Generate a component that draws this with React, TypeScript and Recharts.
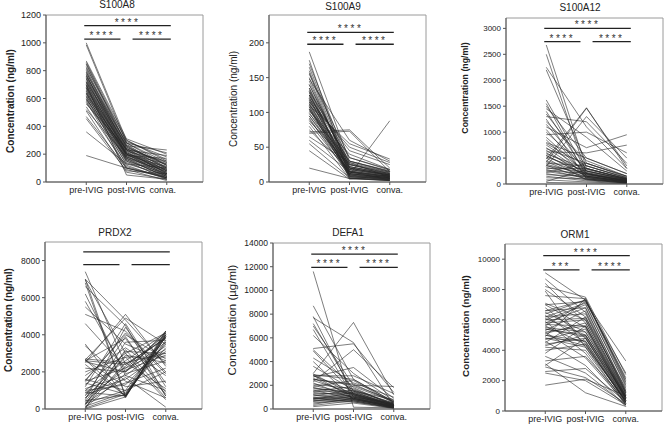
import React from 'react';
import { LineChart, Line, XAxis, YAxis, ReferenceLine, ReferenceArea } from 'recharts';

const timepoints = ['pre-IVIG', 'post-IVIG', 'conva.'];

// S100A8 (ng/ml)
const s100a8Pre = [
  1000, 985, 870, 860, 850, 845, 830, 820, 810, 800, 790,
  785, 775, 770, 760, 750, 745, 740, 730, 720, 715, 710,
  700, 695, 690, 680, 675, 670, 660, 655, 650, 640, 635,
  630, 620, 615, 610, 600, 595, 590, 580, 570, 560, 540,
  520, 510, 470, 455, 360, 190, 720, 680, 760, 640, 700,
];
const s100a8Post = [
  300, 280, 310, 290, 270, 260, 250, 300, 240, 230, 220,
  280, 210, 200, 250, 190, 260, 180, 240, 230, 170, 220,
  210, 200, 160, 190, 150, 180, 230, 140, 200, 170, 120,
  210, 160, 190, 100, 150, 200, 130, 90, 170, 240, 110,
  180, 70, 100, 80, 130, 100, 260, 230, 280, 200, 50,
];
const s100a8Conva = [
  150, 120, 200, 180, 100, 90, 130, 160, 80, 110, 60,
  140, 70, 50, 120, 40, 230, 90, 100, 60, 30, 150,
  80, 70, 40, 110, 20, 60, 190, 30, 90, 50, 20,
  100, 40, 170, 30, 60, 130, 50, 10, 80, 140, 30,
  70, 20, 40, 60, 100, 30, 120, 80, 210, 50, 20,
];

// S100A9 (ng/ml)
const s100a9Pre = [
  187, 175, 170, 165, 160, 157, 155, 150, 148, 145, 140,
  135, 132, 130, 128, 125, 125, 122, 120, 118, 117, 115,
  113, 112, 110, 108, 105, 104, 102, 100, 98, 95, 92,
  90, 88, 85, 80, 75, 72, 70, 65, 60, 55, 45,
  20, 120, 110, 130, 140, 115, 105, 125, 135, 95, 108,
];
const s100a9Post = [
  30, 10, 25, 20, 15, 8, 35, 12, 60, 18, 22,
  5, 28, 14, 10, 30, 20, 7, 45, 16, 25, 12,
  9, 18, 55, 6, 22, 14, 40, 10, 30, 20, 8,
  15, 25, 12, 5, 18, 75, 73, 28, 15, 6, 4,
  5, 20, 12, 35, 22, 50, 9, 16, 26, 14, 11,
];
const s100a9Conva = [
  15, 5, 12, 10, 8, 3, 18, 6, 30, 9, 12,
  2, 14, 7, 88, 16, 10, 4, 25, 8, 12, 6,
  5, 10, 33, 3, 11, 7, 18, 5, 15, 10, 4,
  8, 13, 6, 2, 9, 20, 15, 7, 3, 2, 10,
  3, 10, 6, 17, 11, 28, 4, 8, 14, 7, 5,
];

// S100A12 (ng/ml)
const s100a12Pre = [
  2680, 2500, 2250, 2200, 1620, 1550, 1500, 1450, 1400, 1350, 1300,
  1250, 1200, 1150, 1100, 1050, 1000, 950, 900, 850, 800, 780,
  750, 700, 680, 650, 620, 600, 580, 550, 520, 500, 480,
  450, 430, 400, 380, 360, 340, 320, 300, 280, 260, 240,
  220, 200, 180, 150, 120, 80, 50, 30, 420, 550, 350,
];
const s100a12Post = [
  300, 200, 1100, 400, 250, 150, 500, 900, 200, 350, 1200,
  100, 450, 250, 700, 150, 300, 1000, 200, 120, 500, 350,
  250, 180, 400, 130, 600, 220, 300, 150, 250, 80, 1470,
  200, 120, 350, 180, 90, 1300, 150, 300, 100, 200, 130,
  400, 80, 150, 60, 100, 40, 280, 20, 1460, 170, 220,
];
const s100a12Conva = [
  100, 50, 300, 150, 80, 40, 200, 250, 60, 120, 400,
  30, 150, 90, 950, 50, 100, 600, 70, 40, 200, 110,
  80, 60, 130, 40, 750, 70, 100, 50, 90, 20, 300,
  60, 40, 120, 70, 30, 500, 50, 90, 30, 60, 40,
  150, 20, 50, 20, 30, 10, 100, 10, 350, 60, 80,
];

// PRDX2 (ng/ml)
const prdx2Pre = [
  7400, 7000, 7000, 6950, 6800, 6600, 6200, 5800, 5500, 5100, 4600,
  3500, 3400, 2700, 2650, 2650, 2650, 2600, 2600, 2550, 2500, 2400,
  2000, 1800, 1600, 1550, 1500, 1400, 1300, 1200, 1100, 1000, 900,
  800, 700, 600, 500, 450, 400, 350, 300, 250, 200, 150,
  100, 80, 50, 20, 0, 1500, 1000, 600, 2200, 300, 900,
];
const prdx2Post = [
  2400, 700, 4800, 3000, 650, 4500, 1800, 2000, 3500, 4200, 2200,
  600, 1500, 2500, 700, 4900, 1200, 2400, 3800, 2000, 5100, 700,
  2800, 3300, 1000, 4000, 2200, 800, 3000, 4600, 1800, 2600, 700,
  1400, 3900, 2100, 4400, 750, 3100, 2300, 1700, 2900, 3600, 900,
  2500, 1900, 800, 3200, 650, 4100, 1300, 2800, 2000, 1000, 1600,
];
const prdx2Conva = [
  3800, 4000, 2400, 4100, 3900, 700, 1000, 3600, 2600, 2000, 3900,
  4200, 600, 3000, 4000, 3500, 1500, 3800, 900, 4100, 2300, 3700,
  500, 1800, 4000, 2700, 3200, 4200, 600, 1200, 3400, 4100, 3900,
  2200, 700, 2900, 1400, 3600, 3000, 4000, 100, 2500, 3700, 3300,
  1100, 2600, 3900, 800, 4100, 1900, 3500, 2800, 4200, 2000, 3100,
];

// DEFA1 (µg/ml)
const defa1Pre = [
  11600, 8700, 7800, 7700, 7200, 7000, 6700, 6200, 5100, 5000, 4900,
  4300, 4000, 3600, 3000, 2950, 2900, 2850, 2800, 2700, 2600, 2500,
  2400, 2300, 2200, 2100, 2000, 1900, 1800, 1700, 1600, 1500, 1400,
  1300, 1200, 1100, 1000, 950, 900, 850, 800, 750, 700, 650,
  600, 500, 400, 300, 200, 2500, 1800, 1200, 2800, 900, 1500,
];
const defa1Post = [
  150, 2500, 1200, 5600, 1500, 2000, 1000, 3000, 5500, 1800, 1300,
  2200, 800, 1600, 7300, 1200, 2500, 900, 1500, 3500, 1100, 2000,
  1300, 5000, 900, 1700, 1200, 2400, 1000, 1500, 800, 1900, 1100,
  1300, 700, 1600, 900, 1200, 800, 1000, 1400, 700, 900, 1100,
  600, 800, 900, 700, 500, 2100, 1300, 1000, 2800, 600, 1400,
];
const defa1Conva = [
  100, 600, 400, 300, 800, 1900, 500, 700, 1400, 300, 200,
  1000, 150, 400, 1200, 300, 600, 100, 500, 900, 200, 700,
  300, 1800, 250, 400, 100, 500, 350, 200, 150, 600, 300,
  400, 100, 500, 250, 300, 200, 150, 400, 100, 250, 300,
  80, 200, 150, 100, 50, 600, 300, 200, 1300, 100, 350,
];

// ORM1 (ng/ml)
const orm1Pre = [
  9100, 8700, 8400, 8200, 8000, 7900, 7600, 7100, 7000, 7000, 6800,
  6600, 6500, 6400, 6300, 6200, 6100, 6000, 5900, 5800, 5700, 5600,
  5600, 5500, 5400, 5300, 5200, 5100, 5000, 4900, 4800, 4700, 4600,
  4500, 4400, 4300, 4200, 4000, 3800, 3600, 3300, 3100, 3000, 2900,
  2600, 2500, 1700, 5800, 6200, 5400, 5000, 6600, 4800, 5200, 6000,
];
const orm1Post = [
  7300, 6500, 5800, 7500, 6200, 4200, 7400, 6000, 5500, 7200, 4800,
  6800, 5200, 7300, 4500, 6400, 5000, 7000, 3800, 6000, 5600, 4400,
  7200, 5200, 4900, 6600, 3500, 5800, 4600, 7400, 4200, 5400, 3000,
  6200, 4800, 5000, 4000, 4400, 5600, 2500, 3600, 1200, 4800, 2200,
  2800, 2000, 2100, 6800, 7100, 5000, 4300, 7300, 4600, 5600, 6100,
];
const orm1Conva = [
  1800, 1200, 900, 2400, 1500, 700, 2000, 1100, 800, 3300, 600,
  1400, 1000, 2200, 500, 1300, 900, 1700, 400, 1000, 800, 600,
  2500, 900, 700, 1200, 500, 1000, 600, 1900, 400, 800, 300,
  1100, 700, 900, 500, 600, 1000, 400, 700, 300, 800, 500,
  600, 400, 1000, 1300, 1600, 800, 700, 2100, 600, 900, 1200,
];

const BOX_W = 157;
const X_MAX = 3.9;
const Y_AXIS_W = 40;
const TOP_PAD = 8;
const FONT = '"Liberation Sans", Arial, sans-serif';

type Sig = { y: number; x1: number; x2: number; label: string };

const buildRows = (pre: number[], post: number[], conva: number[]) =>
  [pre, post, conva].map((vals, i) => {
    const row: Record<string, number> = { x: i + 1 };
    vals.forEach((v, j) => {
      row['s' + j] = v;
    });
    return row;
  });

const sigBars = (top: number, low: number, stars: string[]): Sig[] => [
  { y: top, x1: 0.95, x2: 3.1, label: stars[0] },
  { y: low, x1: 0.95, x2: 1.85, label: stars[1] },
  { y: low, x1: 2.15, x2: 3.1, label: stars[2] },
];

const XTick = (props: any) => {
  const { x, y, payload, convaDx } = props;
  const dx = payload.value === 3 ? convaDx : 0;
  return (
    <text x={x + dx} y={y} dy="0.71em" textAnchor="middle" fontSize={9} fill="#222" fontFamily={FONT}>
      {timepoints[payload.value - 1]}
    </text>
  );
};

type PanelProps = {
  left: number;
  top: number;
  boxH: number;
  yMax: number;
  yTicks: number[];
  pre: number[];
  post: number[];
  conva: number[];
  sigs: Sig[];
  tickFont: number;
  convaDx?: number;
};

const Panel = ({ left, top, boxH, yMax, yTicks, pre, post, conva, sigs, tickFont, convaDx = 0 }: PanelProps) => {
  const rows = buildRows(pre, post, conva);
  return (
    <div style={{ position: 'absolute', left: left - Y_AXIS_W, top: top - TOP_PAD }}>
      <LineChart
        width={Y_AXIS_W + BOX_W + 2}
        height={boxH + TOP_PAD + 22}
        data={rows}
        margin={{ top: TOP_PAD, right: 2, bottom: 0, left: 0 }}
      >
        <ReferenceArea x1={0} x2={X_MAX} y1={0} y2={yMax} fill="none" stroke="#9a9a9a" strokeWidth={1} />
        <XAxis
          type="number"
          dataKey="x"
          domain={[0, X_MAX]}
          ticks={[1, 2, 3]}
          interval={0}
          allowDataOverflow
          height={22}
          tickSize={3}
          tickMargin={2}
          axisLine={{ stroke: '#555' }}
          tickLine={{ stroke: '#555' }}
          tick={<XTick convaDx={convaDx} />}
        />
        <YAxis
          type="number"
          domain={[0, yMax]}
          ticks={yTicks}
          interval={0}
          allowDataOverflow
          width={Y_AXIS_W}
          tickSize={3}
          tickMargin={2}
          axisLine={{ stroke: '#555' }}
          tickLine={{ stroke: '#555' }}
          tick={{ fontSize: tickFont, fill: '#222', fontFamily: FONT }}
        />
        {pre.map((_, j) => (
          <Line
            key={j}
            type="linear"
            dataKey={'s' + j}
            stroke="#262626"
            strokeWidth={0.6}
            dot={false}
            activeDot={false}
            isAnimationActive={false}
          />
        ))}
        {sigs.map((s, i) => (
          <ReferenceLine
            key={'sig' + i}
            segment={[
              { x: s.x1, y: s.y },
              { x: s.x2, y: s.y },
            ]}
            stroke="#222"
            strokeWidth={1.3}
            label={
              s.label
                ? {
                    value: s.label,
                    position: 'top',
                    offset: 0,
                    fontSize: 10,
                    fill: '#333',
                    fontFamily: FONT,
                    style: { letterSpacing: '2.5px' },
                  }
                : undefined
            }
          />
        ))}
      </LineChart>
    </div>
  );
};

const titles = [
  { text: 'S100A8', x: 117, y: 8 },
  { text: 'S100A9', x: 343, y: 10 },
  { text: 'S100A12', x: 580, y: 11 },
  { text: 'PRDX2', x: 115, y: 236 },
  { text: 'DEFA1', x: 348, y: 236 },
  { text: 'ORM1', x: 575, y: 238 },
];

const yLabels = [
  { text: 'Concentration (ng/ml)', x: 10, y: 101, size: 10, bold: true },
  { text: 'Concentration (ng/ml)', x: 233, y: 99, size: 10, bold: false },
  { text: 'Concentration (ng/ml)', x: 465, y: 88, size: 8.8, bold: true },
  { text: 'Concentration (ng/ml)', x: 8, y: 320, size: 10, bold: true },
  { text: 'Concentration (µg/ml)', x: 232, y: 320, size: 11.5, bold: false },
  { text: 'Concentration (ng/ml)', x: 465, y: 326, size: 9.8, bold: true },
];

export default function App() {
  return (
    <div
      style={{
        position: 'absolute',
        left: 0,
        top: 0,
        width: 668,
        height: 429,
        background: '#fff',
        fontFamily: FONT,
        overflow: 'hidden',
      }}
    >
      <Panel left={46} top={15} boxH={167} yMax={1200} yTicks={[0, 200, 400, 600, 800, 1000, 1200]}
        pre={s100a8Pre} post={s100a8Post} conva={s100a8Conva}
        sigs={sigBars(1123, 1027, ['****', '****', '****'])} tickFont={9} convaDx={-4} />
      <Panel left={269} top={15} boxH={167} yMax={240} yTicks={[0, 50, 100, 150, 200]}
        pre={s100a9Pre} post={s100a9Post} conva={s100a9Conva}
        sigs={sigBars(215, 198, ['****', '****', '****'])} tickFont={9} />
      <Panel left={506} top={18} boxH={166} yMax={3200} yTicks={[0, 500, 1000, 1500, 2000, 2500, 3000]}
        pre={s100a12Pre} post={s100a12Post} conva={s100a12Conva}
        sigs={sigBars(3000, 2743, ['****', '****', '****'])} tickFont={8} />
      <Panel left={45} top={242} boxH={167} yMax={9000} yTicks={[0, 2000, 4000, 6000, 8000]}
        pre={prdx2Pre} post={prdx2Post} conva={prdx2Conva}
        sigs={sigBars(8470, 7784, ['', '', ''])} tickFont={8.5} />
      <Panel left={273} top={243} boxH={166} yMax={14000} yTicks={[0, 2000, 4000, 6000, 8000, 10000, 12000, 14000]}
        pre={defa1Pre} post={defa1Post} conva={defa1Conva}
        sigs={sigBars(13070, 11950, ['****', '****', '****'])} tickFont={8.5} />
      <Panel left={505} top={244} boxH={167} yMax={11000} yTicks={[0, 2000, 4000, 6000, 8000, 10000]}
        pre={orm1Pre} post={orm1Post} conva={orm1Conva}
        sigs={sigBars(10230, 9290, ['****', '***', '****'])} tickFont={8} />
      <svg width={668} height={429} style={{ position: 'absolute', left: 0, top: 0, pointerEvents: 'none' }}>
        {titles.map((t) => (
          <text key={t.text} x={t.x} y={t.y} textAnchor="middle" fontSize={10} fill="#222" fontFamily={FONT}>
            {t.text}
          </text>
        ))}
        {yLabels.map((l, i) => (
          <text
            key={i}
            transform={`translate(${l.x},${l.y}) rotate(-90)`}
            textAnchor="middle"
            dominantBaseline="central"
            fontSize={l.size}
            fontWeight={l.bold ? 'bold' : 'normal'}
            fill="#222"
            fontFamily={FONT}
          >
            {l.text}
          </text>
        ))}
      </svg>
    </div>
  );
}
